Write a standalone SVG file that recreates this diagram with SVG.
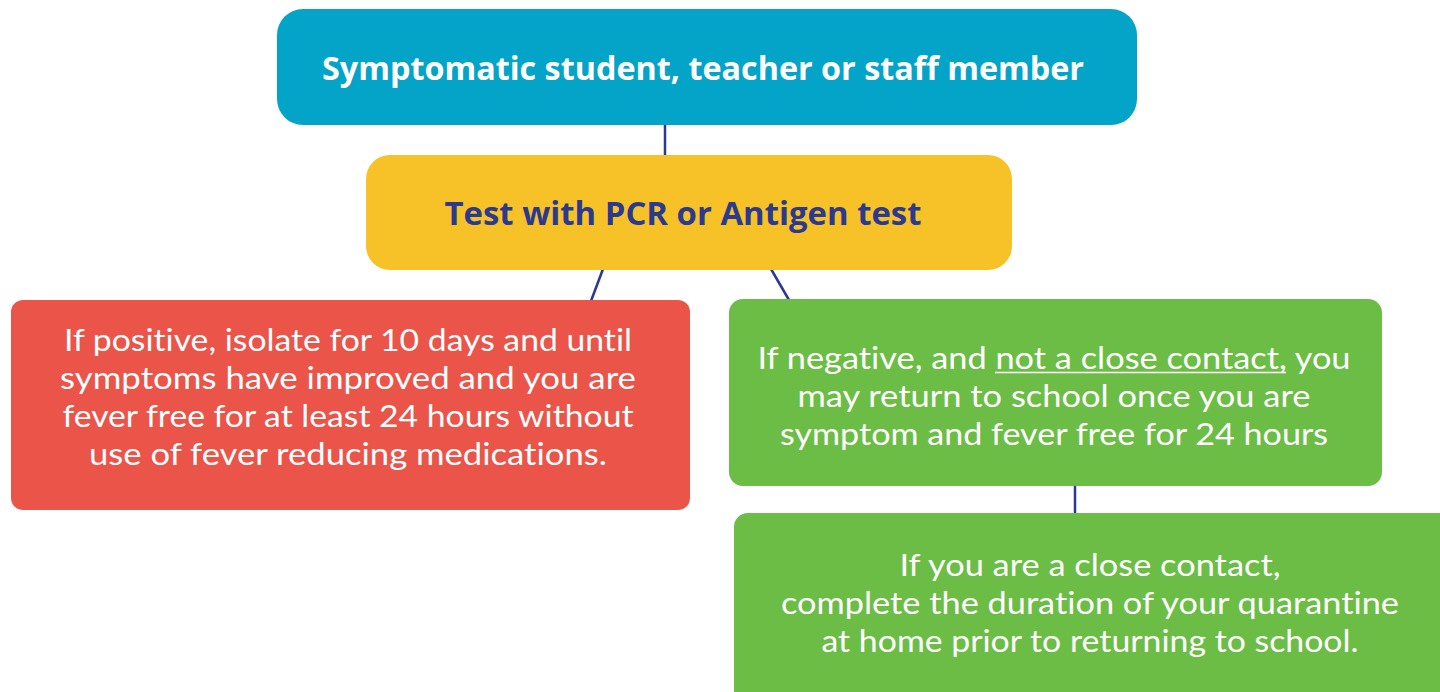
<svg xmlns="http://www.w3.org/2000/svg" width="1440" height="692" viewBox="0 0 1440 692">
<style>
.title{font-family:"Open Sans","Noto Sans","Liberation Sans",sans-serif;font-weight:700;font-size:33px;text-anchor:middle}
.body{font-family:Lato,"Open Sans","Liberation Sans",sans-serif;font-weight:400;font-size:30px;fill:#ffffff;text-anchor:middle;font-variant-ligatures:none}
.conn{stroke:#2B3990;stroke-width:2.5;fill:none}
</style>
<rect width="1440" height="692" fill="#ffffff"/>
<g id="connectors">
<line class="conn" x1="665" y1="124" x2="665" y2="156"/>
<line class="conn" x1="603" y1="269" x2="591" y2="301"/>
<line class="conn" x1="771" y1="269" x2="789" y2="300"/>
<line class="conn" x1="1075" y1="485" x2="1075" y2="514"/>
</g>
<g id="node-symptomatic">
<rect x="277" y="9" width="860" height="116" rx="26" fill="#04A3C8"/>
<text class="title" x="703" y="80" fill="#ffffff" textLength="762" lengthAdjust="spacingAndGlyphs">Symptomatic student, teacher or staff member</text>
</g>
<g id="node-test">
<rect x="366" y="155" width="646" height="115" rx="24" fill="#F6C228"/>
<text class="title" x="683" y="225" fill="#2B3990" textLength="477" lengthAdjust="spacingAndGlyphs">Test with PCR or Antigen test</text>
</g>
<g id="node-positive">
<rect x="11" y="300" width="679" height="210" rx="12" fill="#EA5449"/>
<text class="body" x="348" y="351" textLength="568" lengthAdjust="spacingAndGlyphs">If positive, isolate for 10 days and until</text>
<text class="body" x="348" y="389" textLength="576" lengthAdjust="spacingAndGlyphs">symptoms have improved and you are</text>
<text class="body" x="348" y="427" textLength="571" lengthAdjust="spacingAndGlyphs">fever free for at least 24 hours without</text>
<text class="body" x="348" y="465" textLength="518" lengthAdjust="spacingAndGlyphs">use of fever reducing medications.</text>
</g>
<g id="node-negative">
<rect x="729" y="299" width="653" height="187" rx="14" fill="#6CBD45"/>
<text class="body" x="1054" y="369" textLength="593" lengthAdjust="spacingAndGlyphs">If negative, and not a close contact, you</text>
<line x1="995" y1="372.5" x2="1286" y2="372.5" stroke="#ffffff" stroke-width="1.6"/>
<text class="body" x="1054" y="407" textLength="513" lengthAdjust="spacingAndGlyphs">may return to school once you are</text>
<text class="body" x="1054" y="445" textLength="548" lengthAdjust="spacingAndGlyphs">symptom and fever free for 24 hours</text>
</g>
<g id="node-close-contact">
<rect x="734" y="513" width="730" height="200" rx="14" fill="#6CBD45"/>
<text class="body" x="1090" y="576" textLength="381" lengthAdjust="spacingAndGlyphs">If you are a close contact,</text>
<text class="body" x="1090" y="614" textLength="618" lengthAdjust="spacingAndGlyphs">complete the duration of your quarantine</text>
<text class="body" x="1090" y="652" textLength="537" lengthAdjust="spacingAndGlyphs">at home prior to returning to school.</text>
</g>
</svg>
